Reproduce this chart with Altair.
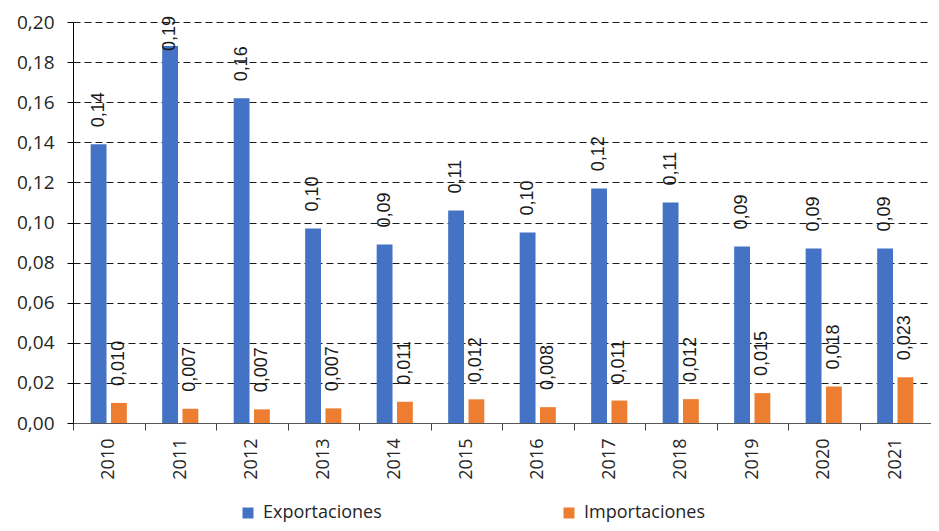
import altair as alt
import pandas as pd

years = [str(y) for y in range(2010, 2022)]
series = ["Exportaciones", "Importaciones"]
exportaciones = [0.139, 0.188, 0.162, 0.097, 0.089, 0.106, 0.095, 0.117, 0.110, 0.088, 0.087, 0.087]
importaciones = [0.0100, 0.0071, 0.0068, 0.0073, 0.0106, 0.0118, 0.0079, 0.0112, 0.0119, 0.0149, 0.0182, 0.0228]
y_ticks = [0.0, 0.02, 0.04, 0.06, 0.08, 0.10, 0.12, 0.14, 0.16, 0.18, 0.20]
colors = ["#4472C4", "#ED7D31"]

rows = []
for i, y in enumerate(years):
    rows.append({"year": y, "serie": series[0], "valor": exportaciones[i]})
    rows.append({"year": y, "serie": series[1], "valor": importaciones[i]})
df = pd.DataFrame(rows)

FONT = "Open Sans"

x_enc = alt.X(
    "year:N", sort=years, title=None,
    scale=alt.Scale(paddingInner=0, paddingOuter=0),
    axis=alt.Axis(labelAngle=-90, tickBand="extent", tickSize=7, tickColor="#404040",
                  domainColor="#595959", labelPadding=8, labelFontSize=18, labelFont=FONT,
                  labelColor="#262626", grid=False),
)
xoff_enc = alt.XOffset("serie:N", sort=series,
                       scale=alt.Scale(paddingInner=0.22, paddingOuter=0.87))

y_axis = alt.Axis(values=y_ticks, title=None,
                  labelExpr="replace(format(datum.value, '.2f'), '.', ',')",
                  grid=True, gridDash=[7, 4], gridColor="#1a1a1a", gridWidth=1,
                  domainColor="#000000", tickColor="#000000", tickSize=6,
                  labelPadding=13, labelFontSize=19, labelFont=FONT,
                  labelColor="#262626")
y_scale = alt.Scale(domain=[0, 0.2], nice=False)

base = alt.Chart(df).transform_calculate(
    label="replace(format(datum.valor, datum.serie == 'Exportaciones' ? '.2f' : '.3f'), '.', ',')",
    pos="min(datum.valor + 0.0085, 0.1855)",
).encode(x=x_enc, xOffset=xoff_enc)

bars = base.mark_bar().encode(
    y=alt.Y("valor:Q", title=None, scale=y_scale, axis=y_axis),
    color=alt.Color("serie:N", sort=series, title=None,
                    scale=alt.Scale(domain=series, range=colors),
                    legend=alt.Legend(orient="none", legendX=166, legendY=482,
                                      direction="horizontal", columnPadding=178,
                                      symbolType="square", symbolSize=121,
                                      symbolStrokeWidth=0, labelFontSize=18,
                                      labelFont=FONT, labelColor="#262626",
                                      labelOffset=6)),
)

labels = base.mark_text(angle=270, align="left", baseline="middle",
                        font="Liberation Sans", fontSize=18, color="#1a1a1a").encode(
    y=alt.Y("pos:Q", title=None, scale=y_scale, axis=y_axis),
    text="label:N",
)

chart = alt.layer(bars, labels).properties(
    width=858, height=401,
    autosize=alt.AutoSizeParams(type="none"),
    padding={"left": 65, "top": 14, "right": 0, "bottom": 100},
).configure_view(stroke=None)

chart.save("out.html", embed_options={"renderer": "svg", "actions": False})
